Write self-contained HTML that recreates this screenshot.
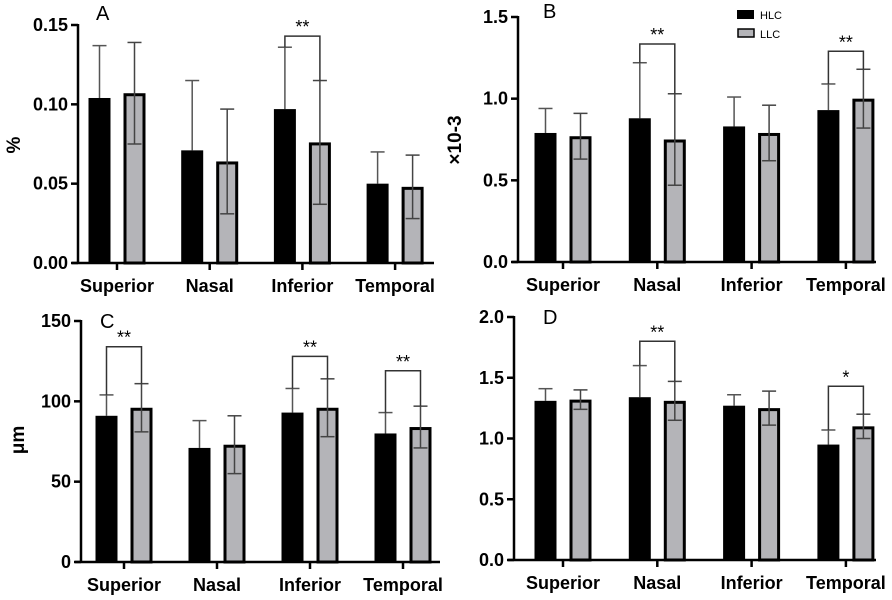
<!DOCTYPE html>
<html><head><meta charset="utf-8"><style>
body{margin:0;background:#fff}
svg{display:block;font-family:"Liberation Sans",sans-serif}
</style></head><body>
<svg id="chart" width="892" height="600" viewBox="0 0 892 600"></svg>
<script>
const categories=["Superior","Nasal","Inferior","Temporal"];
const aHLC=[0.104,0.071,0.097,0.050];
const aHLCerr=[0.033,0.044,0.039,0.020];
const aLLC=[0.107,0.064,0.076,0.048];
const aLLCerr=[0.032,0.033,0.039,0.020];
const aTicks=["0.00","0.05","0.10","0.15"];
const bHLC=[0.79,0.88,0.83,0.93];
const bHLCerr=[0.15,0.34,0.18,0.16];
const bLLC=[0.77,0.75,0.79,1.00];
const bLLCerr=[0.14,0.28,0.17,0.18];
const bTicks=["0.0","0.5","1.0","1.5"];
const cHLC=[91,71,93,80];
const cHLCerr=[13,17,15,13];
const cLLC=[96,73,96,84];
const cLLCerr=[15,18,18,13];
const cTicks=["0","50","100","150"];
const dHLC=[1.31,1.34,1.27,0.95];
const dHLCerr=[0.10,0.26,0.09,0.12];
const dLLC=[1.32,1.31,1.25,1.10];
const dLLCerr=[0.08,0.16,0.14,0.10];
const dTicks=["0.0","0.5","1.0","1.5","2.0"];
const aSig=[[2,0.143,"**"]];
const bSig=[[1,1.335,"**"],[3,1.29,"**"]];
const cSig=[[0,134,"**"],[2,128,"**"],[3,119,"**"]];
const dSig=[[1,1.80,"**"],[3,1.43,"*"]];

const svg=document.getElementById('chart');
const NS="http://www.w3.org/2000/svg";
function mk(tag,at,parent){const e=document.createElementNS(NS,tag);for(const k in at)e.setAttribute(k,at[k]);(parent||svg).appendChild(e);return e;}

function panel(o){
  const g=mk('g',{});
  
  
  const ymax=parseFloat(o.ticks[o.ticks.length-1]);
  const y=v=>o.y0-(v/ymax)*(o.y0-o.top);
  const tickX=i=>o.x0+o.first+i*o.step;
  categories.forEach((c,i)=>{
    const cx=tickX(i);
    const bw=22;
    const hx=cx-17.5, lx=cx+17.5;
    const hv=o.h[i], lv=o.l[i];
    const he=mk('g',{stroke:'#555','stroke-width':1.5},g);
    
    
    mk('line',{x1:hx,x2:hx,y1:y(hv),y2:y(hv+o.he[i])},he);
    mk('line',{x1:hx-7,x2:hx+7,y1:y(hv+o.he[i]),y2:y(hv+o.he[i])},he);
    const hb=mk('rect',{x:hx-bw/2,y:y(hv),width:bw,height:o.y0-y(hv),fill:'#000'},g);
    
    
    const lb=mk('rect',{x:lx-bw/2+1.5,y:y(lv)+1.5,width:bw-3,height:o.y0-y(lv)-1.5,fill:'#b4b4b8',stroke:'#000','stroke-width':3},g);
    
    
    const le=mk('g',{stroke:'#444','stroke-width':1.5},g);
    
    
    const t=y(lv+o.le[i]),b=y(lv-o.le[i]);
    mk('line',{x1:lx,x2:lx,y1:t,y2:b},le);
    mk('line',{x1:lx-7,x2:lx+7,y1:t,y2:t},le);
    mk('line',{x1:lx-7,x2:lx+7,y1:b,y2:b},le);
    const tl=mk('text',{x:cx,y:o.y0+29,'text-anchor':'middle','font-size':18,'font-weight':'bold'},g);
    tl.textContent=c;
    
    
    mk('line',{x1:cx,x2:cx,y1:o.y0,y2:o.y0+7,stroke:'#000','stroke-width':2.5},g);
  });
  const ax=mk('line',{x1:o.x0,x2:o.x0,y1:o.top-1,y2:o.y0,stroke:'#000','stroke-width':2.5},g);
  
  
  const xa=mk('line',{x1:o.x0-6,x2:o.xr,y1:o.y0,y2:o.y0,stroke:'#000','stroke-width':2.5},g);
  
  
  o.ticks.forEach(t=>{
    const yy=y(parseFloat(t));
    mk('line',{x1:o.x0-7,x2:o.x0,y1:yy,y2:yy,stroke:'#000','stroke-width':2.5},g);
    const tx=mk('text',{x:o.x0-10,y:yy+6,'text-anchor':'end','font-size':18,'font-weight':'bold'},g);
    tx.textContent=t;
    
    
  });
  o.sig.forEach(s=>{
    const i=s[0],cx=tickX(i),hx=cx-17.5,lx=cx+17.5,by=y(s[1]);
    const sg=mk('g',{},g);
    
    
    mk('polyline',{points:`${hx},${y(o.h[i]+o.he[i])} ${hx},${by} ${lx},${by} ${lx},${y(o.l[i]+o.le[i])}`,fill:'none',stroke:'#333','stroke-width':1.5},sg);
    const st=mk('text',{x:cx,y:by-3,'text-anchor':'middle','font-size':18},sg);
    st.textContent=s[2];
  });
  const L=mk('text',{x:o.lx,y:o.ly,'font-size':20},g);
  L.textContent=o.letter;
  
  
  const yt=mk('text',{x:0,y:0,'text-anchor':'middle','font-size':19,'font-weight':'bold',transform:`translate(${o.ytx},${o.yty}) rotate(-90)`},g);
  yt.textContent=o.ytitle;
  
  
}
panel({letter:'A',x0:78,y0:263,top:25,xr:434,first:39,step:92.7,ticks:aTicks,h:aHLC,he:aHLCerr,l:aLLC,le:aLLCerr,sig:aSig,lx:96,ly:20,ytitle:'%',ytx:20,yty:145});
panel({letter:'B',x0:518,y0:262,top:17,xr:876,first:45,step:94.3,ticks:bTicks,h:bHLC,he:bHLCerr,l:bLLC,le:bLLCerr,sig:bSig,lx:543,ly:18,ytitle:'×10-3',ytx:461,yty:140});
panel({letter:'C',x0:81,y0:562,top:321,xr:440,first:43,step:93,ticks:cTicks,h:cHLC,he:cHLCerr,l:cLLC,le:cLLCerr,sig:cSig,lx:100,ly:328,ytitle:'μm',ytx:24,yty:440});
panel({letter:'D',x0:514,y0:560,top:317,xr:876,first:49,step:94.3,ticks:dTicks,h:dHLC,he:dHLCerr,l:dLLC,le:dLLCerr,sig:dSig,lx:543,ly:324,ytitle:'',ytx:0,yty:0});
const lg=mk('g',{});


mk('rect',{x:737,y:10,width:17,height:9,fill:'#000'},lg);
mk('rect',{x:738,y:29,width:16,height:8,fill:'#b4b4b8',stroke:'#000','stroke-width':1.5},lg);
const t1=mk('text',{x:760,y:19,'font-size':11},lg);t1.textContent='HLC';


const t2=mk('text',{x:760,y:38,'font-size':11},lg);t2.textContent='LLC';


</script>
</body></html>
